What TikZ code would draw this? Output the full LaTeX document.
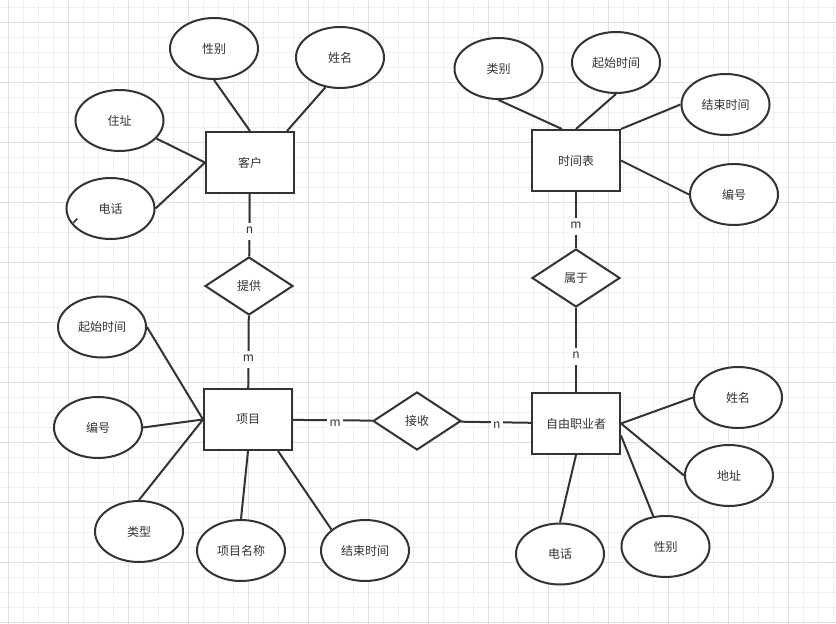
\documentclass[tikz,border=0pt]{standalone}
\usepackage{fontspec}
\usepackage{tikz}
\usepackage{xcolor}
\usetikzlibrary{shapes.geometric}
\setmainfont{Noto Sans CJK SC}
\definecolor{ink}{HTML}{333333}
\definecolor{gridminor}{HTML}{F0F0F0}
\definecolor{gridmajor}{HTML}{E0E0E0}

\begin{document}
\begin{tikzpicture}[x=1pt,y=-1pt,
entity_node/.style={rectangle,draw=ink,fill=white,line width=2pt,minimum width=88pt,minimum height=61pt,inner sep=0pt,text=ink,font=\fontsize{12}{14}\selectfont},
attr_node/.style={ellipse,draw=ink,fill=white,line width=2pt,minimum width=88pt,minimum height=61pt,inner sep=0pt,text=ink,font=\fontsize{12}{14}\selectfont},
rel_node/.style={diamond,draw=ink,fill=white,line width=2pt,minimum width=88pt,minimum height=58pt,inner sep=0pt,text=ink,font=\fontsize{12}{14}\selectfont},
card_node/.style={fill=white,inner xsep=2.5pt,inner ysep=4pt,text height=7pt,text depth=2pt,yshift=-3pt,text=ink,font=\fontsize{12}{14}\selectfont}]

\useasboundingbox (0,0) rectangle (836,624);
\fill[white] (0,0) rectangle (836,624);

% grid
\foreach \k in {0,...,55} \draw[gridminor,line width=1pt] ({8.5+15*\k},0) -- ++(0,624);
\foreach \k in {0,...,41} \draw[gridminor,line width=1pt] (0,{7.5+15*\k}) -- ++(836,0);
\foreach \k in {0,...,13} \draw[gridmajor,line width=1pt] ({8.5+60*\k},0) -- ++(0,624);
\foreach \k in {0,...,10} \draw[gridmajor,line width=1pt] (0,{22.5+60*\k}) -- ++(836,0);

\node[entity_node] (kehu) at (250,162.5) {客户};
\node[attr_node] (kh_xingbie) at (214,48.5) {性别};
\node[attr_node] (kh_xingming) at (340,57.5) {姓名};
\node[attr_node] (kh_zhuzhi) at (119.5,120.5) {住址};
\node[attr_node] (kh_dianhua) at (110.5,208.5) {电话};
\node[rel_node] (tigong) at (249,286) {提供};

\node[entity_node] (xiangmu) at (248,419.5) {项目};
\node[attr_node] (xm_qishi) at (102,327) {起始时间};
\node[attr_node] (xm_bianhao) at (98,427.5) {编号};
\node[attr_node] (xm_leixing) at (139,531.5) {类型};
\node[attr_node] (xm_mingcheng) at (241,550.5) {项目名称};
\node[attr_node] (xm_jieshu) at (365,550.5) {结束时间};
\node[rel_node] (jieshou) at (417,421) {接收};

\node[entity_node] (shijianbiao) at (576,160.5) {时间表};
\node[attr_node] (sj_leibie) at (498.5,68.5) {类别};
\node[attr_node] (sj_qishi) at (616,62.5) {起始时间};
\node[attr_node] (sj_jieshu) at (725.5,104.5) {结束时间};
\node[attr_node] (sj_bianhao) at (734,194.5) {编号};
\node[rel_node] (shuyu) at (576,278) {属于};

\node[entity_node] (ziyou) at (576,423.5) {自由职业者};
\node[attr_node] (zy_xingming) at (738,397.5) {姓名};
\node[attr_node] (zy_dizhi) at (729,475.5) {地址};
\node[attr_node] (zy_dianhua) at (560,554) {电话};
\node[attr_node] (zy_xingbie) at (665.5,546.5) {性别};

\draw[ink,line width=1.5pt] (73.3,222.7) -- (77.3,218.7);

 \path[draw=ink, line width=2pt]
(kh_xingbie.south) edge (kehu.north)
(kh_xingming.244) edge ([xshift=-8pt]kehu.north east)
(kh_zhuzhi.334) edge (kehu.west)
(kh_dianhua.east) edge (kehu.west)
(kehu) edge node[card_node,pos=0.55] {n} (tigong)
(tigong) edge node[card_node,pos=0.56] {m} (xiangmu)
(xm_qishi.east) edge (xiangmu.west)
(xm_bianhao.east) edge (xiangmu.west)
(xm_leixing.north) edge (xiangmu.west)
(xm_mingcheng.north) edge (xiangmu.south)
(xm_jieshu.148) edge ([xshift=-15pt]xiangmu.south east)
(xiangmu) edge node[card_node,pos=0.53,yshift=-1pt] {m} (jieshou)
(jieshou) edge node[card_node,pos=0.51,yshift=-1pt] {n} (ziyou)
(sj_leibie.south) edge ([xshift=-14pt]shijianbiao.north)
(sj_qishi.south) edge (shijianbiao.north)
(sj_jieshu.west) edge (shijianbiao.north east)
(sj_bianhao.west) edge (shijianbiao.east)
(shijianbiao) edge node[card_node,pos=0.56] {m} (shuyu)
(shuyu) edge node[card_node,pos=0.54] {n} (ziyou)
(zy_xingming.west) edge (ziyou.east)
(zy_dizhi.west) edge (ziyou.east)
(zy_dianhua.north) edge (ziyou.south)
(zy_xingbie.112) edge ([yshift=-12pt]ziyou.east)
;

\end{tikzpicture}
\end{document}
